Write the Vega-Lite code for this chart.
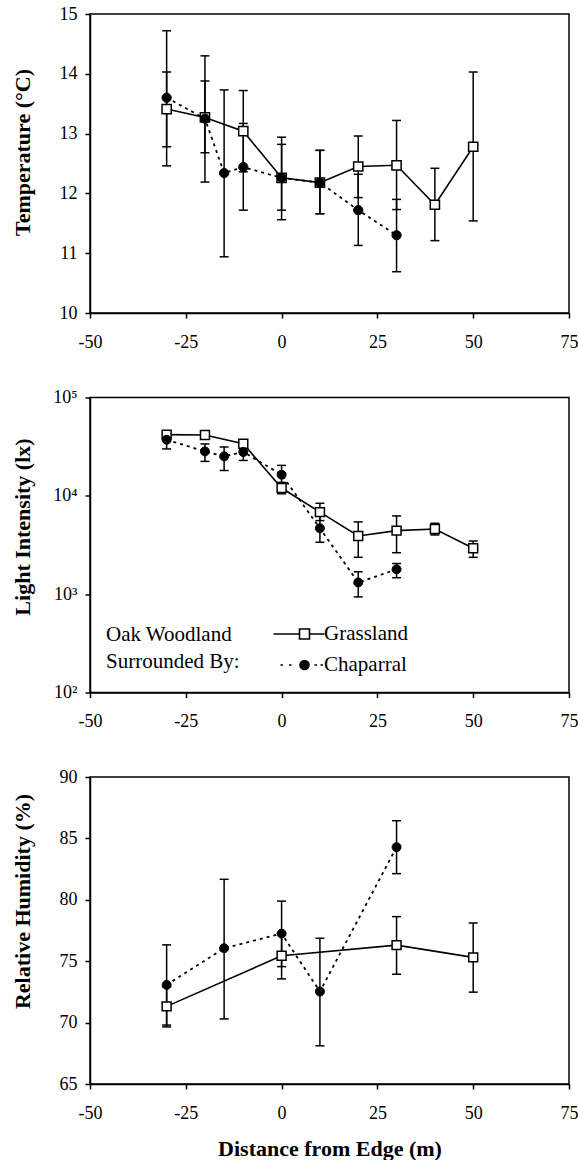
{
  "$schema": "https://vega.github.io/schema/vega-lite/v6.json",
  "padding": {"left": 10, "top": 4, "right": 0, "bottom": 2},
  "spacing": 84.5,
  "bounds": "flush",
  "resolve": {"legend": {"shape": "independent", "fill": "independent", "stroke": "independent"}},
  "config": {
    "font": "Liberation Serif",
    "view": {"stroke": "black", "strokeWidth": 1.5},
    "axis": {"grid": false, "domainColor": "black", "domainWidth": 1.5, "tickColor": "black", "tickWidth": 1.5, "tickSize": 5, "labelFont": "Liberation Serif", "labelFontSize": 18, "labelColor": "black", "titleFont": "Liberation Serif", "titleFontSize": 22, "titleFontWeight": "bold", "titleColor": "black", "labelOverlap": false},
    "axisX": {"labelPadding": 29, "labelBaseline": "alphabetic", "labelFlush": false, "labelExpr": "'' + datum.value"},
    "axisY": {"labelPadding": 8, "titleX": -61, "titleBaseline": "alphabetic", "titleAlign": "center", "titleAngle": 270},
    "legend": {"labelFont": "Liberation Serif", "titleFont": "Liberation Serif"}
  },
  "datasets": {
    "temp": [
      {"x": -30, "v": 13.41, "lo": 12.78, "hi": 14.03, "s": "Grassland"},
      {"x": -20, "v": 13.27, "lo": 12.68, "hi": 13.88, "s": "Grassland"},
      {"x": -10, "v": 13.04, "lo": 12.36, "hi": 13.72, "s": "Grassland"},
      {"x": 0, "v": 12.26, "lo": 11.72, "hi": 12.82, "s": "Grassland"},
      {"x": 10, "v": 12.18, "lo": 11.66, "hi": 12.72, "s": "Grassland"},
      {"x": 20, "v": 12.45, "lo": 11.93, "hi": 12.96, "s": "Grassland"},
      {"x": 30, "v": 12.47, "lo": 11.73, "hi": 13.22, "s": "Grassland"},
      {"x": 40, "v": 11.81, "lo": 11.21, "hi": 12.42, "s": "Grassland"},
      {"x": 50, "v": 12.78, "lo": 11.54, "hi": 14.03, "s": "Grassland"},
      {"x": -30, "v": 13.6, "lo": 12.46, "hi": 14.72, "s": "Chaparral"},
      {"x": -20, "v": 13.25, "lo": 12.19, "hi": 14.3, "s": "Chaparral"},
      {"x": -15, "v": 12.34, "lo": 10.94, "hi": 13.73, "s": "Chaparral"},
      {"x": -10, "v": 12.44, "lo": 11.72, "hi": 13.17, "s": "Chaparral"},
      {"x": 0, "v": 12.26, "lo": 11.56, "hi": 12.94, "s": "Chaparral"},
      {"x": 10, "v": 12.18, "lo": 11.66, "hi": 12.72, "s": "Chaparral"},
      {"x": 20, "v": 11.72, "lo": 11.13, "hi": 12.32, "s": "Chaparral"},
      {"x": 30, "v": 11.3, "lo": 10.69, "hi": 11.9, "s": "Chaparral"}
    ],
    "light": [
      {"x": -30, "v": 41900, "lo": 38500, "hi": 45000, "s": "Grassland"},
      {"x": -20, "v": 41600, "lo": 38000, "hi": 44500, "s": "Grassland"},
      {"x": -10, "v": 33900, "lo": 30500, "hi": 36600, "s": "Grassland"},
      {"x": 0, "v": 12000, "lo": 10500, "hi": 13700, "s": "Grassland"},
      {"x": 10, "v": 6830, "lo": 5600, "hi": 8400, "s": "Grassland"},
      {"x": 20, "v": 3910, "lo": 2370, "hi": 5430, "s": "Grassland"},
      {"x": 30, "v": 4430, "lo": 2640, "hi": 6250, "s": "Grassland"},
      {"x": 40, "v": 4600, "lo": 4000, "hi": 5260, "s": "Grassland"},
      {"x": 50, "v": 2930, "lo": 2370, "hi": 3470, "s": "Grassland"},
      {"x": -30, "v": 37200, "lo": 30000, "hi": 43000, "s": "Chaparral"},
      {"x": -20, "v": 28300, "lo": 22400, "hi": 33700, "s": "Chaparral"},
      {"x": -15, "v": 25200, "lo": 18100, "hi": 31400, "s": "Chaparral"},
      {"x": -10, "v": 27900, "lo": 22900, "hi": 32500, "s": "Chaparral"},
      {"x": 0, "v": 16400, "lo": 12800, "hi": 20400, "s": "Chaparral"},
      {"x": 10, "v": 4680, "lo": 3370, "hi": 6200, "s": "Chaparral"},
      {"x": 20, "v": 1315, "lo": 938, "hi": 1690, "s": "Chaparral"},
      {"x": 30, "v": 1790, "lo": 1470, "hi": 2050, "s": "Chaparral"}
    ],
    "rh": [
      {"x": -30, "v": 71.32, "lo": 69.65, "hi": 72.9, "s": "Grassland"},
      {"x": 0, "v": 75.44, "lo": 73.56, "hi": 77.3, "s": "Grassland"},
      {"x": 30, "v": 76.31, "lo": 73.94, "hi": 78.63, "s": "Grassland"},
      {"x": 50, "v": 75.31, "lo": 72.48, "hi": 78.11, "s": "Grassland"},
      {"x": -30, "v": 73.07, "lo": 69.8, "hi": 76.33, "s": "Chaparral"},
      {"x": -15, "v": 76.06, "lo": 70.3, "hi": 81.67, "s": "Chaparral"},
      {"x": 0, "v": 77.25, "lo": 74.56, "hi": 79.89, "s": "Chaparral"},
      {"x": 10, "v": 72.53, "lo": 68.11, "hi": 76.87, "s": "Chaparral"},
      {"x": 30, "v": 84.29, "lo": 82.13, "hi": 86.44, "s": "Chaparral"}
    ]
  },
  "vconcat": [
    {
      "width": 479, "height": 299,
      "data": {"name": "temp"},
      "layer": [
        {"mark": {"type": "rule", "color": "black", "strokeWidth": 1.5},
         "encoding": {"x": {"field": "x", "type": "quantitative", "scale": {"domain": [-50, 75], "nice": false}, "axis": {"values": [-50, -25, 0, 25, 50, 75]}, "title": null},
                      "y": {"field": "lo", "type": "quantitative", "scale": {"domain": [10, 15], "nice": false, "zero": false}, "axis": {"values": [10, 11, 12, 13, 14, 15], "labelExpr": "'' + datum.value", "titleY": 138}, "title": "Temperature (°C)"},
                      "y2": {"field": "hi"}}},
        {"mark": {"type": "tick", "orient": "horizontal", "color": "black", "size": 9, "thickness": 1.5, "opacity": 1},
         "encoding": {"x": {"field": "x", "type": "quantitative", "title": null}, "y": {"field": "lo", "type": "quantitative", "title": "Temperature (°C)"}}},
        {"mark": {"type": "tick", "orient": "horizontal", "color": "black", "size": 9, "thickness": 1.5, "opacity": 1},
         "encoding": {"x": {"field": "x", "type": "quantitative", "title": null}, "y": {"field": "hi", "type": "quantitative", "title": "Temperature (°C)"}}},
        {"transform": [{"filter": "datum.s == 'Grassland'"}],
         "mark": {"type": "line", "color": "black", "strokeWidth": 1.6},
         "encoding": {"x": {"field": "x", "type": "quantitative", "title": null}, "y": {"field": "v", "type": "quantitative", "title": "Temperature (°C)"}}},
        {"transform": [{"filter": "datum.s == 'Chaparral'"}],
         "mark": {"type": "line", "color": "black", "strokeWidth": 1.8, "strokeDash": [3, 4]},
         "encoding": {"x": {"field": "x", "type": "quantitative", "title": null}, "y": {"field": "v", "type": "quantitative", "title": "Temperature (°C)"}}},
        {"transform": [{"filter": "datum.s == 'Grassland'"}],
         "mark": {"type": "point", "shape": "square", "filled": true, "fill": "white", "stroke": "black", "strokeWidth": 1.5, "size": 85, "opacity": 1},
         "encoding": {"x": {"field": "x", "type": "quantitative", "title": null}, "y": {"field": "v", "type": "quantitative", "title": "Temperature (°C)"}}},
        {"transform": [{"filter": "datum.s == 'Chaparral'"}],
         "mark": {"type": "point", "shape": "circle", "filled": true, "fill": "black", "stroke": "black", "strokeWidth": 1, "size": 85, "opacity": 1},
         "encoding": {"x": {"field": "x", "type": "quantitative", "title": null}, "y": {"field": "v", "type": "quantitative", "title": "Temperature (°C)"}}}
      ]
    },
    {
      "width": 479, "height": 295,
      "data": {"name": "light"},
      "layer": [
        {"mark": {"type": "rule", "color": "black", "strokeWidth": 1.5},
         "encoding": {"x": {"field": "x", "type": "quantitative", "scale": {"domain": [-50, 75], "nice": false}, "axis": {"values": [-50, -25, 0, 25, 50, 75]}, "title": null},
                      "y": {"field": "lo", "type": "quantitative", "scale": {"type": "log", "domain": [100, 100000], "nice": false}, "axis": {"values": [100, 1000, 10000, 100000], "labelExpr": "datum.value == 100 ? '10²' : datum.value == 1000 ? '10³' : datum.value == 10000 ? '10⁴' : '10⁵'", "titleY": 129}, "title": "Light Intensity (lx)"},
                      "y2": {"field": "hi"}}},
        {"mark": {"type": "tick", "orient": "horizontal", "color": "black", "size": 9, "thickness": 1.5, "opacity": 1},
         "encoding": {"x": {"field": "x", "type": "quantitative", "title": null}, "y": {"field": "lo", "type": "quantitative", "title": "Light Intensity (lx)"}}},
        {"mark": {"type": "tick", "orient": "horizontal", "color": "black", "size": 9, "thickness": 1.5, "opacity": 1},
         "encoding": {"x": {"field": "x", "type": "quantitative", "title": null}, "y": {"field": "hi", "type": "quantitative", "title": "Light Intensity (lx)"}}},
        {"transform": [{"filter": "datum.s == 'Grassland'"}],
         "mark": {"type": "line", "color": "black", "strokeWidth": 1.6},
         "encoding": {"x": {"field": "x", "type": "quantitative", "title": null}, "y": {"field": "v", "type": "quantitative", "title": "Light Intensity (lx)"}}},
        {"transform": [{"filter": "datum.s == 'Chaparral'"}],
         "mark": {"type": "line", "color": "black", "strokeWidth": 1.8, "strokeDash": [3, 4]},
         "encoding": {"x": {"field": "x", "type": "quantitative", "title": null}, "y": {"field": "v", "type": "quantitative", "title": "Light Intensity (lx)"}}},
        {"transform": [{"filter": "datum.s == 'Grassland'"}],
         "mark": {"type": "point", "shape": "square", "filled": true, "fill": "white", "stroke": "black", "strokeWidth": 1.5, "size": 80, "opacity": 1},
         "encoding": {"x": {"field": "x", "type": "quantitative", "title": null}, "y": {"field": "v", "type": "quantitative", "title": "Light Intensity (lx)"}}},
        {"transform": [{"filter": "datum.s == 'Chaparral'"}],
         "mark": {"type": "point", "shape": "circle", "filled": true, "fill": "black", "stroke": "black", "strokeWidth": 1, "size": 80, "opacity": 1},
         "encoding": {"x": {"field": "x", "type": "quantitative", "title": null}, "y": {"field": "v", "type": "quantitative", "title": "Light Intensity (lx)"}}},
        {"mark": {"type": "point", "filled": true, "strokeWidth": 1.5, "opacity": 0},
         "encoding": {"x": {"field": "x", "type": "quantitative", "title": null}, "y": {"field": "v", "type": "quantitative", "title": "Light Intensity (lx)"},
                      "shape": {"field": "s", "type": "nominal", "scale": {"domain": ["Grassland", "Chaparral"], "range": ["M-6.2,0H-1M1,0H4M-1,-1H1V1H-1Z", "M-4.8,0H-4.3M-3.1,0H-2.6M0.9,0A0.9,0.9,0,1,1,-0.9,0A0.9,0.9,0,1,1,0.9,0ZM2.0,0H2.5M3.2,0H3.7"]},
                                "legend": {"orient": "none", "legendX": 16, "legendY": 226, "title": ["Oak Woodland", "Surrounded By:"], "titleOrient": "left", "titleAnchor": "start", "titleFontSize": 21, "titleFontWeight": "normal", "titleColor": "black", "titleLineHeight": 27, "titleBaseline": "top", "titlePadding": 54, "labelFontSize": 21, "labelColor": "black", "labelOffset": 9, "symbolSize": 100, "symbolStrokeWidth": 1.6, "symbolOpacity": 1, "rowPadding": 9, "padding": 0}},
                      "fill": {"field": "s", "type": "nominal", "scale": {"domain": ["Grassland", "Chaparral"], "range": ["white", "black"]},
                               "legend": {"orient": "none", "legendX": 16, "legendY": 226, "title": ["Oak Woodland", "Surrounded By:"], "titleOrient": "left", "titleAnchor": "start", "titleFontSize": 21, "titleFontWeight": "normal", "titleColor": "black", "titleLineHeight": 27, "titleBaseline": "top", "titlePadding": 54, "labelFontSize": 21, "labelColor": "black", "labelOffset": 9, "symbolSize": 100, "symbolStrokeWidth": 1.6, "symbolOpacity": 1, "rowPadding": 9, "padding": 0}},
                      "stroke": {"field": "s", "type": "nominal", "scale": {"domain": ["Grassland", "Chaparral"], "range": ["black", "black"]},
                               "legend": {"orient": "none", "legendX": 16, "legendY": 226, "title": ["Oak Woodland", "Surrounded By:"], "titleOrient": "left", "titleAnchor": "start", "titleFontSize": 21, "titleFontWeight": "normal", "titleColor": "black", "titleLineHeight": 27, "titleBaseline": "top", "titlePadding": 54, "labelFontSize": 21, "labelColor": "black", "labelOffset": 9, "symbolSize": 100, "symbolStrokeWidth": 1.6, "symbolOpacity": 1, "rowPadding": 9, "padding": 0}}}}
      ]
    },
    {
      "width": 479, "height": 307,
      "data": {"name": "rh"},
      "layer": [
        {"mark": {"type": "rule", "color": "black", "strokeWidth": 1.5},
         "encoding": {"x": {"field": "x", "type": "quantitative", "scale": {"domain": [-50, 75], "nice": false}, "axis": {"values": [-50, -25, 0, 25, 50, 75], "titleY": 71, "titleBaseline": "alphabetic"}, "title": "Distance from Edge (m)"},
                      "y": {"field": "lo", "type": "quantitative", "scale": {"domain": [65, 90], "nice": false, "zero": false}, "axis": {"values": [65, 70, 75, 80, 85, 90], "labelExpr": "'' + datum.value", "titleY": 124}, "title": "Relative Humidity (%)"},
                      "y2": {"field": "hi"}}},
        {"mark": {"type": "tick", "orient": "horizontal", "color": "black", "size": 9, "thickness": 1.5, "opacity": 1},
         "encoding": {"x": {"field": "x", "type": "quantitative", "title": "Distance from Edge (m)"}, "y": {"field": "lo", "type": "quantitative", "title": "Relative Humidity (%)"}}},
        {"mark": {"type": "tick", "orient": "horizontal", "color": "black", "size": 9, "thickness": 1.5, "opacity": 1},
         "encoding": {"x": {"field": "x", "type": "quantitative", "title": "Distance from Edge (m)"}, "y": {"field": "hi", "type": "quantitative", "title": "Relative Humidity (%)"}}},
        {"transform": [{"filter": "datum.s == 'Grassland'"}],
         "mark": {"type": "line", "color": "black", "strokeWidth": 1.6},
         "encoding": {"x": {"field": "x", "type": "quantitative", "title": "Distance from Edge (m)"}, "y": {"field": "v", "type": "quantitative", "title": "Relative Humidity (%)"}}},
        {"transform": [{"filter": "datum.s == 'Chaparral'"}],
         "mark": {"type": "line", "color": "black", "strokeWidth": 1.8, "strokeDash": [3, 4]},
         "encoding": {"x": {"field": "x", "type": "quantitative", "title": "Distance from Edge (m)"}, "y": {"field": "v", "type": "quantitative", "title": "Relative Humidity (%)"}}},
        {"transform": [{"filter": "datum.s == 'Grassland'"}],
         "mark": {"type": "point", "shape": "square", "filled": true, "fill": "white", "stroke": "black", "strokeWidth": 1.5, "size": 80, "opacity": 1},
         "encoding": {"x": {"field": "x", "type": "quantitative", "title": "Distance from Edge (m)"}, "y": {"field": "v", "type": "quantitative", "title": "Relative Humidity (%)"}}},
        {"transform": [{"filter": "datum.s == 'Chaparral'"}],
         "mark": {"type": "point", "shape": "circle", "filled": true, "fill": "black", "stroke": "black", "strokeWidth": 1, "size": 80, "opacity": 1},
         "encoding": {"x": {"field": "x", "type": "quantitative", "title": "Distance from Edge (m)"}, "y": {"field": "v", "type": "quantitative", "title": "Relative Humidity (%)"}}}
      ]
    }
  ]
}
